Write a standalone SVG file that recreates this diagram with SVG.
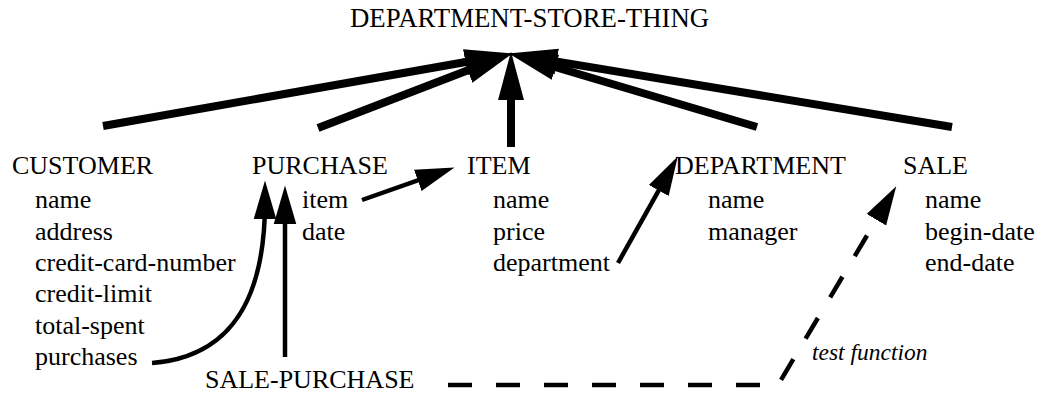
<svg xmlns="http://www.w3.org/2000/svg" width="1041" height="394" viewBox="0 0 1041 394" font-family="Liberation Serif, Times New Roman, serif">
  <style>
    text { fill: #000; }
    .cls { font-size: 26px; }
    .title { font-size: 26.8px; }
    .attr { font-size: 26px; }
    .note { font-size: 23.5px; font-style: italic; }
    .isa { stroke: #000; stroke-width: 8; fill: none; marker-end: url(#bigHead); }
    .ref { stroke: #000; stroke-width: 4.5; fill: none; marker-end: url(#smallHead); }
    .test { stroke: #000; stroke-width: 4.5; fill: none; stroke-dasharray: 24 24; marker-end: url(#smallHead); }
  </style>
  <defs>
    <marker id="bigHead" markerUnits="userSpaceOnUse" orient="auto" markerWidth="50" markerHeight="30" viewBox="0 -13 46 26" refX="15" refY="0">
      <path d="M0,-12 L45,0 L0,12 Z" fill="#000"/>
    </marker>
    <marker id="smallHead" markerUnits="userSpaceOnUse" orient="auto" markerWidth="40" markerHeight="26" viewBox="0 -11 37 22" refX="16" refY="0">
      <path d="M0,-10.5 L36,0 L0,10.5 Z" fill="#000"/>
    </marker>
  </defs>
  <rect width="1041" height="394" fill="#fff"/>

  <g id="connectors">
    <!-- is-a links up to the root class -->
    <path class="isa" d="M103,126 L481.4,59.2"/>
    <path class="isa" d="M318,128 L482.9,64.6"/>
    <path class="isa" d="M511,147 L511,84"/>
    <path class="isa" d="M757,127 L539.8,62.5"/>
    <path class="isa" d="M952,127 L540.6,58.9"/>
    <!-- slot references -->
    <path class="ref" d="M362,200 L434.1,174.6"/>
    <path class="ref" d="M618,263 L667.2,175.4"/>
    <path class="ref" stroke-width="3.5" d="M152,363 C215,358 265,320 265,202"/>
    <path class="ref" stroke-width="5.5" d="M285,357 L285,207"/>
    <!-- test function link -->
    <path class="test" d="M448,385 H778 L885.2,204.9"/>
  </g>

  <g id="department-store-thing">
    <text class="title" x="350" y="27">DEPARTMENT-STORE-THING</text>
  </g>

  <g id="customer">
    <text class="cls" x="12" y="174">CUSTOMER</text>
    <text class="attr" x="35" y="208">name</text>
    <text class="attr" x="35" y="239.5">address</text>
    <text class="attr" x="35" y="271">credit-card-number</text>
    <text class="attr" x="35" y="302">credit-limit</text>
    <text class="attr" x="35" y="333.5">total-spent</text>
    <text class="attr" x="35" y="365">purchases</text>
  </g>

  <g id="purchase">
    <text class="cls" x="252" y="174">PURCHASE</text>
    <text class="attr" x="302" y="208">item</text>
    <text class="attr" x="302" y="239.5">date</text>
  </g>

  <g id="item">
    <text class="cls" x="467" y="174">ITEM</text>
    <text class="attr" x="493" y="208">name</text>
    <text class="attr" x="493" y="239.5">price</text>
    <text class="attr" x="493" y="271">department</text>
  </g>

  <g id="department">
    <text class="cls" x="675" y="174">DEPARTMENT</text>
    <text class="attr" x="708" y="208">name</text>
    <text class="attr" x="708" y="239.5">manager</text>
  </g>

  <g id="sale">
    <text class="cls" x="903" y="174">SALE</text>
    <text class="attr" x="925" y="208">name</text>
    <text class="attr" x="925" y="239.5">begin-date</text>
    <text class="attr" x="925" y="271">end-date</text>
  </g>

  <g id="sale-purchase">
    <text class="cls" x="205" y="388">SALE-PURCHASE</text>
  </g>

  <g id="test-function-label">
    <text class="note" x="812" y="360">test function</text>
  </g>
</svg>
